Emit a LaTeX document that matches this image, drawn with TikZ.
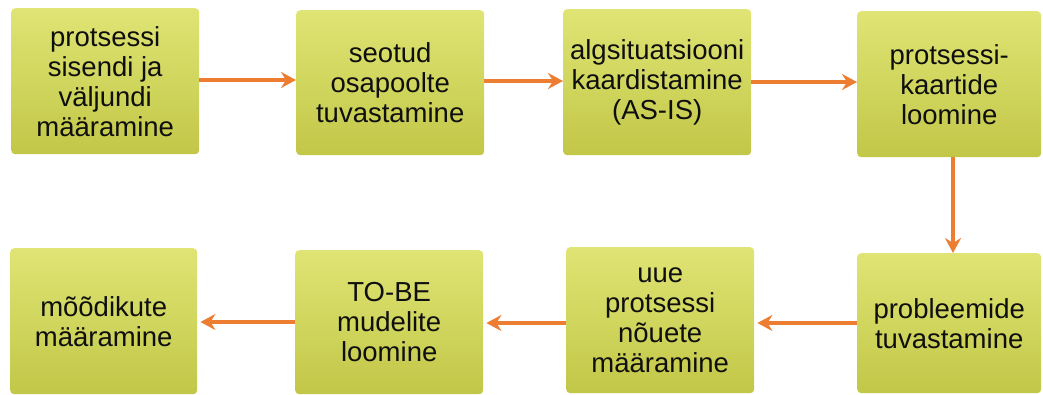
\documentclass[tikz,border=0pt]{standalone}
\usepackage{fontspec}
\setmainfont{Liberation Sans}
\usetikzlibrary{arrows.meta}
\definecolor{boxtop}{RGB}{223,228,116}
\definecolor{boxbot}{RGB}{194,199,72}
\definecolor{flow}{RGB}{237,125,49}
\definecolor{ink}{RGB}{15,15,15}
\tikzset{
  stage/.style={anchor=north west, rounded corners=4pt, top color=boxtop,
    bottom color=boxbot, draw=none, inner sep=0pt, align=center, text=ink,
    font=\fontsize{27.5}{30}\selectfont},
  flowarrow/.style={draw=flow, line width=3.2pt,
    -{Stealth[length=15pt, width=16pt, inset=5pt]}}
}
\begin{document}
\begin{tikzpicture}[x=1pt, y=-1pt]
\useasboundingbox (0,0) rectangle (1043,394);
% top row
\node[stage, minimum width=188pt, minimum height=146pt] (b1) at (11,8)
  {protsessi\\sisendi ja\\väljundi\\määramine};
\node[stage, minimum width=188pt, minimum height=145pt] (b2) at (296,10)
  {seotud\\osapoolte\\tuvastamine};
\node[stage, minimum width=188pt, minimum height=146pt] (b3) at (563,9)
  {algsituatsiooni\\kaardistamine\\(AS-IS)};
\node[stage, minimum width=184pt, minimum height=146pt] (b4) at (857,11)
  {protsessi-\\kaartide\\loomine};
% bottom row
\node[stage, minimum width=184pt, minimum height=140pt] (b8) at (857,253)
  {probleemide\\tuvastamine};
\node[stage, minimum width=188pt, minimum height=146pt] (b7) at (566,247)
  {uue\\protsessi\\nõuete\\määramine};
\node[stage, minimum width=188pt, minimum height=144pt] (b6) at (295,250)
  {TO-BE\\mudelite\\loomine};
\node[stage, minimum width=187pt, minimum height=146pt] (b5) at (10,248)
  {mõõdikute\\määramine};
% flow
\draw[flowarrow] (b1.east |- 0,80) -- (b2.west |- 0,80);
\draw[flowarrow] (b2.east |- 0,81) -- (b3.west |- 0,81);
\draw[flowarrow] (b3.east |- 0,82) -- (b4.west |- 0,82);
\draw[flowarrow] (953,0 |- b4.south) -- (953,0 |- b8.north);
\draw[flowarrow] (b8.west |- 0,323) -- ([xshift=3pt]b7.east |- 0,323);
\draw[flowarrow] (b7.west |- 0,323) -- ([xshift=3pt]b6.east |- 0,323);
\draw[flowarrow] (b6.west |- 0,322) -- ([xshift=3pt]b5.east |- 0,322);
\end{tikzpicture}
\end{document}
